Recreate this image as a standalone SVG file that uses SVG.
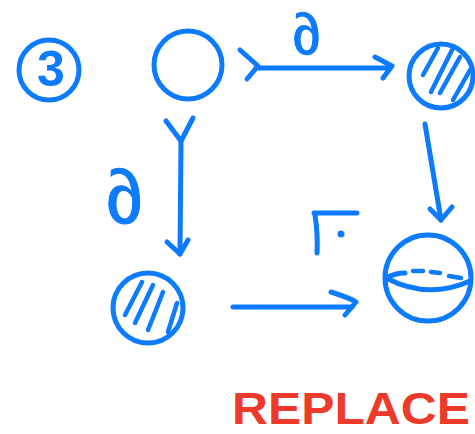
<svg xmlns="http://www.w3.org/2000/svg" width="475" height="434" viewBox="0 0 475 434">
  <style>
    .ink { fill: none; stroke: #0c7bff; stroke-width: 5; stroke-linecap: round; stroke-linejoin: round; }
    .thin { fill: none; stroke: #0c7bff; stroke-width: 4.5; stroke-linecap: round; stroke-linejoin: round; }
    .lbl { fill: #0c7bff; stroke: #0c7bff; stroke-width: 1; font-family: "Liberation Sans", sans-serif; text-anchor: middle; }
  </style>
  <rect width="475" height="434" fill="#ffffff"/>

  <!-- step number -->
  <g id="step">
    <circle class="ink" cx="49" cy="70" r="30"/>
    <text x="51" y="86" font-family="Liberation Sans, sans-serif" font-weight="bold" font-size="50" fill="#0c7bff" text-anchor="middle">3</text>
  </g>

  <!-- objects -->
  <g id="node-a">
    <circle class="ink" cx="188" cy="65" r="34"/>
  </g>
  <g id="node-b">
    <circle class="ink" cx="441" cy="76" r="32"/>
    <path class="thin" d="M438 48 L423 75 M452 50 L431 92 M460 57 L440 93 M470 70 L453 100"/>
  </g>
  <g id="node-c">
    <circle class="ink" cx="148" cy="308" r="35"/>
    <path class="thin" d="M142 282 L125 315 M153 285 L135 323 M163 292 L148 330 M177 303 L168 332"/>
  </g>
  <g id="node-d">
    <circle class="ink" cx="428" cy="278" r="43"/>
    <path class="ink" d="M386 278 Q428 300 470 281"/>
    <path class="ink" d="M386 278 Q395 273 405 273"/>
    <path class="thin" d="M413 271 L423 271 M431 272 L440 273 M449 276 L461 278"/>
  </g>

  <!-- morphisms -->
  <g id="connectors">
    <!-- a -> b (mono) -->
    <path class="ink" d="M240 50 L258 66 L247 79"/>
    <path class="ink" d="M256 68 L390 68"/>
    <path class="ink" d="M375 57 L392 66 L383 78"/>
    <!-- a -> c (mono) -->
    <path class="ink" d="M166 121 L181 141 L193 118"/>
    <path class="ink" d="M181 141 L180 254"/>
    <path class="ink" d="M167 242 L180 254 L188 240"/>
    <!-- b -> d -->
    <path class="ink" d="M425 124 L441 220"/>
    <path class="ink" d="M430 209 L441 220 L452 207"/>
    <!-- c -> d -->
    <path class="ink" d="M233 307 L352 307"/>
    <path class="ink" d="M331 292 Q350 298 356 302 L345 315"/>
    <!-- pushout corner -->
    <path class="ink" d="M314 213 L357 213 M315 215 Q318 235 317 253"/>
    <circle cx="341" cy="234" r="3.5" fill="#0c7bff"/>
  </g>

  <!-- labels (upright partial-derivative signs) -->
  <text class="lbl" transform="translate(310,54) skewX(12)" font-size="58">∂</text>
  <text class="lbl" transform="translate(129,223) skewX(12)" font-size="76">∂</text>

  <text x="351" y="424" font-family="Liberation Sans, sans-serif" font-weight="bold" font-size="44" fill="#ee3a2a" text-anchor="middle" textLength="238" lengthAdjust="spacingAndGlyphs">REPLACE</text>
</svg>
